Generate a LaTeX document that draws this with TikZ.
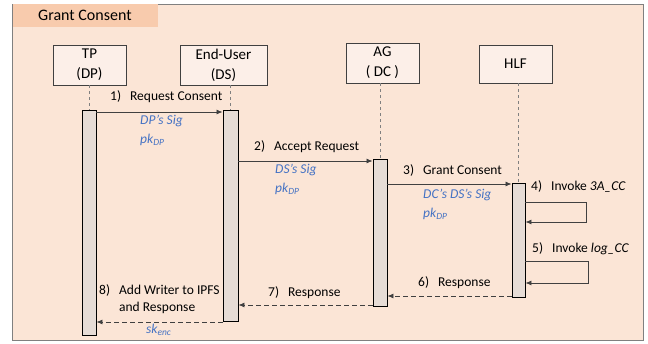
\documentclass[tikz,border=0pt]{standalone}
\usepackage{fontspec}
\setmainfont{Carlito}
\usetikzlibrary{arrows.meta}
\definecolor{panelfill}{HTML}{FBE5D6}
\definecolor{titlefill}{HTML}{F8CBAD}
\definecolor{boxfill}{HTML}{FCEFE8}
\definecolor{barfill}{HTML}{E6DCD6}
\definecolor{linegray}{HTML}{404040}
\definecolor{sigblue}{HTML}{4472C4}
\newcommand{\pkdp}{pk\textsubscript{DP}}

\begin{document}
\begin{tikzpicture}[x=1pt, y=-1pt,
  actor/.style={draw=linegray, line width=0.8pt, fill=boxfill, minimum width=73pt, minimum height=40pt,
    align=center, font=\fontsize{15}{20}\selectfont},
  bar/.style={draw=black, line width=0.9pt, fill=barfill, minimum width=14pt, anchor=north, inner sep=0pt},
  life/.style={draw=gray, dash pattern=on 3pt off 3pt},
  msg/.style={draw=linegray, line width=0.8pt, -{Latex[length=6pt,width=5pt]}},
  reply/.style={msg, dash pattern=on 5pt off 3pt},
  lbl/.style={anchor=west, inner sep=0pt, font=\fontsize{13.5}{17}\selectfont},
  sig/.style={anchor=north west, inner sep=0pt, align=left, text=sigblue,
    font=\fontsize{13.5}{18.5}\selectfont\itshape}]
  \useasboundingbox (0,0) rectangle (648,344);

  % panel and title
  \draw[gray, line width=0.8pt, fill=panelfill] (12,4) rectangle (643,340);
  \fill[titlefill] (12.5,4.5) rectangle (158,27);
  \node[anchor=west, inner sep=0pt, font=\fontsize{16}{18}\selectfont] (title) at (38,15) {Grant Consent};

  % actors
  \node[actor] (tp)  at (89.5,65)  {TP\\(DP)};
  \node[actor, minimum width=87pt] (eu) at (223.5,65) {End-User\\(DS)};
  \node[actor] (ag)  at (382.5,63) {AG\\( DC )};
  \node[actor, minimum height=38pt] (hlf) at (515.5,64) {HLF};

  % activation bars
  \node[bar, minimum height=225pt] (tpbar)  at (89,110)  {};
  \node[bar, minimum height=211pt, minimum width=15pt] (eubar) at (230.5,110) {};
  \node[bar, minimum height=147pt] (agbar)  at (380,159)  {};
  \node[bar, minimum height=114pt, minimum width=13pt] (hlfbar) at (518.5,183) {};

  % lifelines
  \draw[life] (tpbar.north |- tp.south) -- (tpbar.north);
  \draw[life] (eubar.north |- eu.south) -- (eubar.north);
  \draw[life] (agbar.north |- ag.south) -- (agbar.north);
  \draw[life] (hlfbar.north |- hlf.south) -- (hlfbar.north);

  % message rows
  \coordinate (m1) at (0,112);
  \coordinate (m2) at (0,161);
  \coordinate (m3) at (0,184);
  \coordinate (m4a) at (0,202);
  \coordinate (m4b) at (0,222);
  \coordinate (m5a) at (0,261);
  \coordinate (m5b) at (0,283);
  \coordinate (m6) at (0,296);
  \coordinate (m7) at (0,305);
  \coordinate (m8) at (0,322);

  \draw[msg] (tpbar.east |- m1) -- (eubar.west |- m1);
  \draw[msg] (eubar.east |- m2) -- (agbar.west |- m2);
  \draw[msg] (agbar.east |- m3) -- (hlfbar.west |- m3);
  \draw[msg] (hlfbar.east |- m4a) -- ++(61,0) |- (hlfbar.east |- m4b);
  \draw[msg] (hlfbar.east |- m5a) -- ++(63,0) |- (hlfbar.east |- m5b);
  \draw[reply] (hlfbar.west |- m6) -- (agbar.east |- m6);
  \draw[reply] (agbar.west |- m7) -- (eubar.east |- m7);
  \draw[reply] (eubar.west |- m8) -- (tpbar.east |- m8);

  % labels
  \node[lbl] (l1) at (110,97)  {1)\hspace{9pt}Request Consent};
  \node[lbl] (l2) at (254,147) {2)\hspace{9pt}Accept Request};
  \node[lbl] (l3) at (403,171) {3)\hspace{9pt}Grant Consent};
  \node[lbl] (l4) at (531,187) {4)\hspace{9pt}Invoke \textit{3A\_CC}};
  \node[lbl] (l5) at (532,249) {5)\hspace{9pt}Invoke \textit{log\_CC}};
  \node[lbl] (l6) at (418,283) {6)\hspace{9pt}Response};
  \node[lbl] (l7) at (268,293) {7)\hspace{9pt}Response};
  \node[lbl] (l8) at (99,300) {\begin{tabular}{@{}l@{\hspace{9pt}}l@{}}8) & Add Writer to IPFS\\ & and Response\end{tabular}};

  % signatures
  \node[sig] (s1) at (140,115) {DP’s Sig\\\pkdp};
  \node[sig] (s2) at (275,164) {DS’s Sig\\\pkdp};
  \node[sig] (s3) at (423,189) {DC’s DS’s Sig\\\pkdp};
  \node[sig] (s4) at (146,324) {sk\textsubscript{enc}};
\end{tikzpicture}
\end{document}
